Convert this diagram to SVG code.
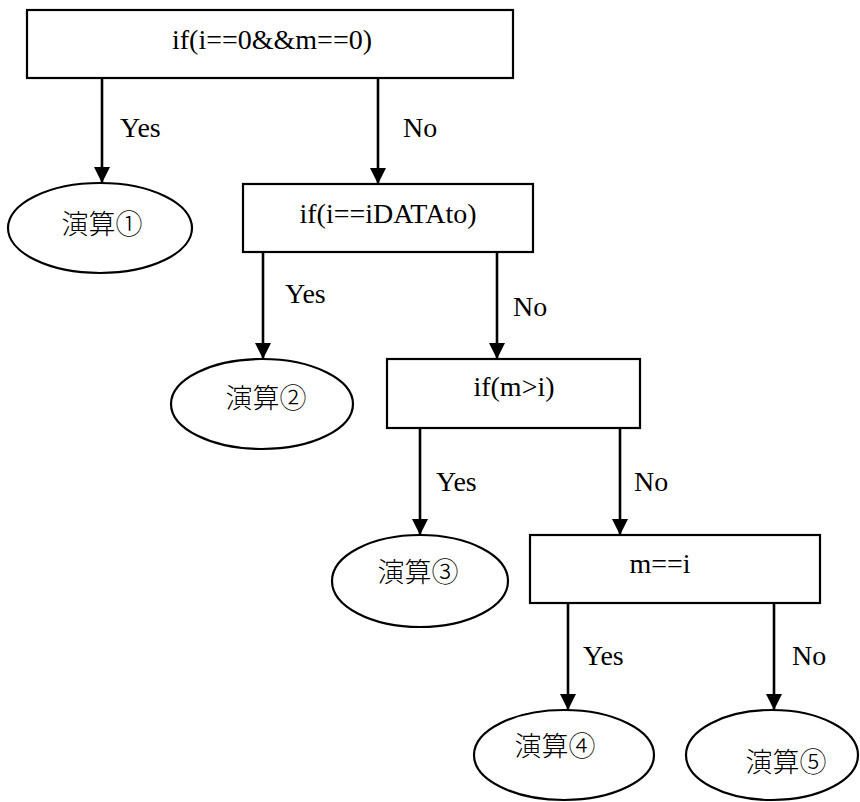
<svg xmlns="http://www.w3.org/2000/svg" width="860" height="802" viewBox="0 0 860 802">
<style>
.box{fill:#fff;stroke:#000;stroke-width:2.2}
.ell{fill:#fff;stroke:#000;stroke-width:2.2}
.t{font-family:"Liberation Serif","Times New Roman",serif;font-size:28px;fill:#000}
.j{font-family:"Liberation Serif","Noto Sans CJK JP",serif;font-size:27px;font-weight:300;fill:#000}
.c{text-anchor:middle}
.ln{stroke:#000;stroke-width:2.6;fill:none;marker-end:url(#ah)}
</style>
<defs>
<marker id="ah" markerUnits="userSpaceOnUse" markerWidth="18" markerHeight="18" refX="16" refY="8" orient="auto">
<path d="M0,0 L16,8 L0,16 Z" fill="#000"/>
</marker>
</defs>
<rect width="860" height="802" fill="#fff"/>
<g id="connectors">
<line class="ln" x1="102" y1="78" x2="102" y2="183"/>
<line class="ln" x1="378" y1="78" x2="378" y2="184"/>
<line class="ln" x1="263" y1="252" x2="263" y2="359"/>
<line class="ln" x1="497" y1="252" x2="497" y2="359"/>
<line class="ln" x1="420" y1="428" x2="420" y2="535"/>
<line class="ln" x1="620" y1="428" x2="620" y2="535"/>
<line class="ln" x1="568" y1="603" x2="568" y2="710"/>
<line class="ln" x1="774" y1="603" x2="774" y2="710"/>
<text class="t" x="120" y="137">Yes</text>
<text class="t" x="403" y="137">No</text>
<text class="t" x="285" y="303">Yes</text>
<text class="t" x="513" y="316">No</text>
<text class="t" x="436" y="491">Yes</text>
<text class="t" x="634" y="491">No</text>
<text class="t" x="583" y="665">Yes</text>
<text class="t" x="792" y="665">No</text>
</g>
<g id="cond1">
<rect class="box" x="27" y="10" width="486" height="68"/>
<text class="t c" x="272" y="49">if(i==0&amp;&amp;m==0)</text>
</g>
<g id="cond2">
<rect class="box" x="243" y="184" width="290" height="68"/>
<text class="t c" x="388" y="223">if(i==iDATAto)</text>
</g>
<g id="cond3">
<rect class="box" x="387" y="359" width="253" height="69"/>
<text class="t c" x="514" y="396">if(m&gt;i)</text>
</g>
<g id="cond4">
<rect class="box" x="530" y="535" width="290" height="68"/>
<text class="t c" x="660" y="573">m==i</text>
</g>
<g id="op1">
<ellipse class="ell" cx="100" cy="228" rx="92" ry="45"/>
<text class="j c" x="102" y="234">演算①</text>
</g>
<g id="op2">
<ellipse class="ell" cx="262" cy="404" rx="91" ry="45"/>
<text class="j c" x="266" y="408">演算②</text>
</g>
<g id="op3">
<ellipse class="ell" cx="420" cy="581" rx="88" ry="46"/>
<text class="j c" x="418" y="582">演算③</text>
</g>
<g id="op4">
<ellipse class="ell" cx="564" cy="755" rx="90" ry="45"/>
<text class="j c" x="555" y="756">演算④</text>
</g>
<g id="op5">
<ellipse class="ell" cx="772" cy="755" rx="86" ry="45"/>
<text class="j c" x="786" y="772">演算⑤</text>
</g>
</svg>
